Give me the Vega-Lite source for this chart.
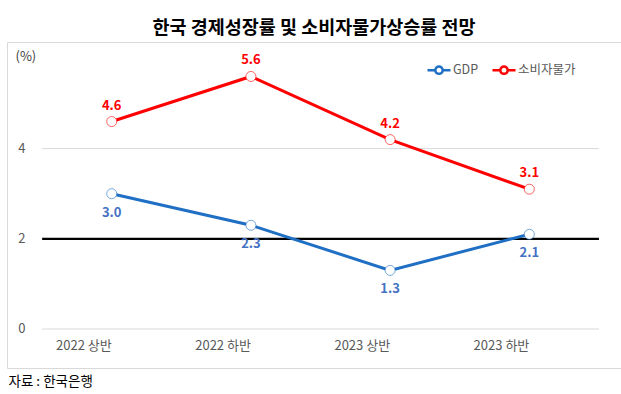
{
  "$schema": "https://vega.github.io/schema/vega-lite/v6.json",
  "width": 614,
  "height": 326,
  "autosize": {"type": "none"},
  "padding": {"left": 7, "top": 42, "right": 0, "bottom": 26},
  "background": "white",
  "config": {
    "view": {"stroke": "#d9d9d9", "strokeWidth": 1},
    "font": "Noto Sans CJK KR"
  },
  "title": {
    "text": "한국 경제성장률 및 소비자물가상승률 전망",
    "fontSize": 18.5,
    "fontWeight": "bold",
    "color": "#000000",
    "anchor": "middle",
    "offset": 5,
    "font": "Noto Sans CJK KR"
  },
  "data": {
    "values": [
      {"period": "2022 상반", "series": "GDP", "value": 3.0},
      {"period": "2022 하반", "series": "GDP", "value": 2.3},
      {"period": "2023 상반", "series": "GDP", "value": 1.3},
      {"period": "2023 하반", "series": "GDP", "value": 2.1},
      {"period": "2022 상반", "series": "소비자물가", "value": 4.6},
      {"period": "2022 하반", "series": "소비자물가", "value": 5.6},
      {"period": "2023 상반", "series": "소비자물가", "value": 4.2},
      {"period": "2023 하반", "series": "소비자물가", "value": 3.1}
    ]
  },
  "layer": [
    {
      "data": {"values": [{"v": 0}, {"v": 4}]},
      "mark": {"type": "rule", "color": "#d9d9d9", "strokeWidth": 1},
      "encoding": {
        "y": {
          "field": "v",
          "type": "quantitative",
          "scale": {"domain": [-0.865, 6.364], "nice": false, "zero": false},
          "axis": {
            "values": [0, 2, 4],
            "offset": -21,
            "labelPadding": 3,
            "grid": false,
            "domain": false,
            "ticks": false,
            "labelFontSize": 13,
            "labelColor": "#595959",
            "labelFont": "Noto Sans CJK KR",
            "title": "(%)",
            "titleAngle": 0,
            "titleX": -13,
            "titleY": 14,
            "titleAlign": "left",
            "titleBaseline": "middle",
            "titleFontSize": 13,
            "titleFontWeight": "normal",
            "titleColor": "#404040",
            "titleFont": "Noto Sans CJK KR"
          }
        },
        "x": {"datum": "2022 상반", "type": "nominal", "bandPosition": 0},
        "x2": {"datum": "2023 하반", "bandPosition": 1}
      }
    },
    {
      "data": {"values": [{"v": 2}]},
      "mark": {"type": "rule", "color": "#000000", "strokeWidth": 2.2},
      "encoding": {
        "y": {"field": "v", "type": "quantitative"},
        "x": {"datum": "2022 상반", "type": "nominal", "bandPosition": 0},
        "x2": {"datum": "2023 하반", "bandPosition": 1}
      }
    },
    {
      "mark": {"type": "line", "strokeWidth": 3},
      "encoding": {
        "x": {
          "field": "period",
          "type": "nominal",
          "sort": null,
          "scale": {
            "type": "band",
            "domain": ["2022 상반", "2022 하반", "2023 상반", "2023 하반"],
            "paddingInner": 0,
            "paddingOuter": 0.2055,
            "align": 0.614
          },
          "axis": {
            "orient": "bottom",
            "offset": -25,
            "labelPadding": 2,
            "domain": false,
            "ticks": false,
            "labelAngle": 0,
            "labelFontSize": 13,
            "labelColor": "#595959",
            "labelFont": "Noto Sans CJK KR",
            "title": "자료 : 한국은행",
            "titleX": 1,
            "titleY": 38,
            "titleAnchor": "start",
            "titleAlign": "left",
            "titleBaseline": "middle",
            "titleFontSize": 13.5,
            "titleFontWeight": "normal",
            "titleColor": "#000000",
            "titleFont": "Noto Sans CJK KR"
          }
        },
        "y": {"field": "value", "type": "quantitative"},
        "color": {
          "field": "series",
          "type": "nominal",
          "scale": {"domain": ["GDP", "소비자물가"], "range": ["#1f6fc4", "#ff0000"]},
          "legend": {
            "orient": "none",
            "legendX": 419,
            "legendY": 15,
            "direction": "horizontal",
            "title": null,
            "symbolType": "M-1,0H-0.32M0.32,0H1M0.32,0A0.32,0.32,0,1,1,-0.32,0A0.32,0.32,0,1,1,0.32,0",
            "symbolSize": 529,
            "symbolStrokeWidth": 2.5,
            "symbolFillColor": "white",
            "labelFontSize": 12.5,
            "labelColor": "#595959",
            "labelFont": "Noto Sans CJK KR",
            "labelOffset": 1,
            "columnPadding": 8
          }
        }
      }
    },
    {
      "mark": {"type": "point", "filled": false, "fill": "white", "fillOpacity": 1, "size": 100, "strokeWidth": 1, "strokeOpacity": 0.6, "opacity": 1},
      "encoding": {
        "x": {"field": "period", "type": "nominal", "sort": null},
        "y": {"field": "value", "type": "quantitative"},
        "color": {"field": "series", "type": "nominal"}
      }
    },
    {
      "transform": [{"filter": "datum.series === 'GDP'"}],
      "mark": {"type": "text", "dy": 19, "color": "#4472c4", "fontWeight": "bold", "fontSize": 13, "font": "Noto Sans CJK KR"},
      "encoding": {
        "x": {"field": "period", "type": "nominal", "sort": null},
        "y": {"field": "value", "type": "quantitative"},
        "text": {"field": "value", "type": "quantitative", "format": ".1f"}
      }
    },
    {
      "transform": [{"filter": "datum.series === '소비자물가'"}],
      "mark": {"type": "text", "dy": -16, "color": "#ff0000", "fontWeight": "bold", "fontSize": 13, "font": "Noto Sans CJK KR"},
      "encoding": {
        "x": {"field": "period", "type": "nominal", "sort": null},
        "y": {"field": "value", "type": "quantitative"},
        "text": {"field": "value", "type": "quantitative", "format": ".1f"}
      }
    }
  ]
}
